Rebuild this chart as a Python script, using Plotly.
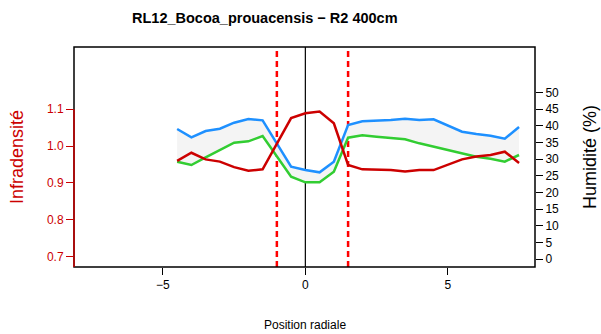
import plotly.graph_objects as go

# radial positions (cm) - no sample at -1.0
pos = [-4.5, -4.0, -3.5, -3.0, -2.5, -2.0, -1.5, -0.5, 0.0, 0.5, 1.0, 1.5,
       2.0, 2.5, 3.0, 3.5, 4.0, 4.5, 5.0, 5.5, 6.0, 6.5, 7.0, 7.5]

infradensite = [0.960, 0.982, 0.964, 0.958, 0.943, 0.933, 0.937, 1.076, 1.089, 1.094, 1.062, 0.949,
                0.937, 0.937, 0.935, 0.931, 0.935, 0.935, 0.949, 0.964, 0.972, 0.976, 0.985, 0.954]

hum_max = [39.0, 36.5, 38.4, 39.1, 40.9, 42.0, 41.6, 27.7, 26.7, 26.0, 29.2, 40.2,
           41.3, 41.4, 41.7, 42.1, 41.7, 41.9, 40.0, 38.2, 37.5, 37.0, 36.1, 39.6]

hum_min = [29.2, 28.2, 30.5, 32.7, 34.9, 35.3, 36.9, 24.7, 23.0, 23.0, 26.2, 36.4,
           37.1, 36.7, 36.4, 35.9, 34.7, 33.7, 32.7, 31.5, 30.7, 30.1, 29.2, 31.2]

limits = [-1.0, 1.5]

left_ticks = [0.7, 0.8, 0.9, 1.0, 1.1]
right_ticks = list(range(0, 55, 5))

red = '#CC0000'
font = 'Liberation Sans, Arial, sans-serif'

fig = go.Figure()

# humidity band (right axis)
fig.add_trace(go.Scatter(x=pos, y=hum_min, mode='lines', yaxis='y',
                         line=dict(color='#32CD32', width=2.5)))
fig.add_trace(go.Scatter(x=pos, y=hum_max, mode='lines', yaxis='y', fill='tonexty',
                         fillcolor='#f4f4f4', line=dict(color='#1E90FF', width=2.5)))
# infradensity (left axis)
fig.add_trace(go.Scatter(x=pos, y=infradensite, mode='lines', yaxis='y2',
                         line=dict(color=red, width=2.5)))

shapes = [dict(type='line', xref='x', yref='paper', x0=0, x1=0, y0=0, y1=1,
               line=dict(color='black', width=1.2), layer='below')]
for v in limits:
    shapes.append(dict(type='line', xref='x', yref='paper', x0=v, x1=v, y0=0, y1=1,
                       line=dict(color='#FF0000', width=2.5, dash='6px,4px'), layer='below'))
shapes.append(dict(type='rect', xref='paper', yref='paper', x0=0, x1=1, y0=0, y1=1,
                   line=dict(color='black', width=1.5), layer='above'))
shapes.append(dict(type='line', xref='paper', yref='y2', x0=0, x1=0, y0=0.672, y1=1.1,
                   line=dict(color=red, width=1.5), layer='above'))

fig.update_layout(
    width=601, height=334,
    margin=dict(l=74, r=66, t=47, b=67),
    plot_bgcolor='white', paper_bgcolor='white',
    showlegend=False,
    font=dict(family=font, size=12, color='black'),
    shapes=shapes,
    xaxis=dict(range=[-8.12, 8.06], tickvals=[-5, 0, 5], ticktext=['\u22125', '0', '5'],
               ticks='outside', ticklen=7, tickcolor='black', showgrid=False, zeroline=False,
               showline=False, tickfont=dict(size=12)),
    yaxis=dict(side='right', range=[-2.4, 63.6], tickvals=right_ticks, ticks='outside',
               ticklen=7, tickcolor='black', showgrid=False, zeroline=False, showline=False,
               tickfont=dict(size=12)),
    yaxis2=dict(side='left', overlaying='y', range=[0.672, 1.269], tickvals=left_ticks,
                ticktext=['0.7', '0.8', '0.9', '1.0', '1.1'], ticks='outside', ticklen=7,
                tickcolor=red, tickfont=dict(size=12, color=red), showgrid=False,
                zeroline=False, showline=False),
    annotations=[
        dict(text='<b>RL12_Bocoa_prouacensis \u2212 R2 400cm</b>', xref='paper', yref='paper',
             x=(265 - 74) / 461, y=1 + 29 / 220, xanchor='center', yanchor='middle',
             showarrow=False, font=dict(size=14.5)),
        dict(text='Infradensit\u00e9', xref='paper', yref='paper', x=-(74 - 17) / 461, y=0.5,
             textangle=-90, xanchor='center', yanchor='middle', showarrow=False,
             font=dict(size=18, color=red)),
        dict(text='Humidit\u00e9 (%)', xref='paper', yref='paper', x=1 + (590 - 535) / 461,
             y=0.5, textangle=-90, xanchor='center', yanchor='middle', showarrow=False,
             font=dict(size=18)),
        dict(text='Position radiale', xref='paper', yref='paper', x=(305 - 74) / 461,
             y=-(325 - 267) / 220, xanchor='center', yanchor='middle', showarrow=False,
             font=dict(size=12)),
    ],
)

# drop the default page margin so the figure sits at the window origin
fig.write_html("out.html", config={'displayModeBar': False},
               post_script="document.body.style.margin='0';")
